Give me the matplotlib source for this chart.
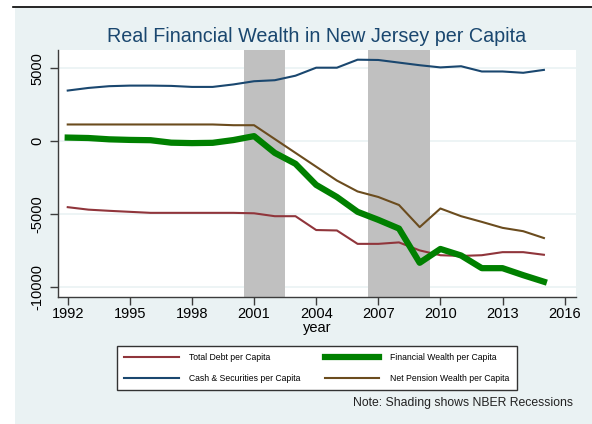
import matplotlib
matplotlib.use("Agg")
import matplotlib.pyplot as plt
from matplotlib.lines import Line2D

years = list(range(1992, 2016))
total_debt = [-4530, -4700, -4780, -4850, -4920, -4920, -4920, -4920, -4920, -4950,
              -5150, -5150, -6100, -6130, -7050, -7050, -6950, -7500, -7830, -7880,
              -7830, -7620, -7620, -7800]
cash_sec = [3480, 3660, 3780, 3820, 3820, 3800, 3730, 3730, 3900, 4120,
            4190, 4500, 5050, 5050, 5600, 5580, 5400, 5220, 5070, 5150,
            4790, 4790, 4700, 4900]
fin_wealth = [250, 220, 130, 90, 70, -100, -130, -110, 80, 350,
              -800, -1550, -3000, -3830, -4850, -5400, -6000, -8350, -7400, -7850,
              -8720, -8720, -9200, -9650]
net_pension = [1150, 1150, 1150, 1150, 1150, 1150, 1150, 1150, 1100, 1100,
               150, -800, -1750, -2700, -3450, -3830, -4380, -5900, -4620, -5150,
               -5540, -5950, -6180, -6650]
recessions = [(2000.5, 2002.5), (2006.5, 2009.5)]
xticks = [1992, 1995, 1998, 2001, 2004, 2007, 2010, 2013, 2016]
yticks = [-10000, -5000, 0, 5000]
series_labels = ["Total Debt per Capita", "Cash & Securities per Capita",
                 "Financial Wealth per Capita", "Net Pension Wealth per Capita"]

plt.rcParams['font.family'] = ['Liberation Sans', 'DejaVu Sans']

BG = '#eaf2f3'
fig = plt.figure(figsize=(5.92, 4.24), dpi=100)
fig.patch.set_facecolor('white')
# light background panel
bgrect = plt.Rectangle((15/592, 0), 1 - 15/592, 1 - 8/424,
                       transform=fig.transFigure, facecolor=BG,
                       edgecolor='none', zorder=-10)
fig.patches.append(bgrect)
fig.lines.append(Line2D([13/592, 1], [1 - 7/424, 1 - 7/424], transform=fig.transFigure,
                        color='black', lw=1.2, zorder=-5))

ax = fig.add_axes([58/592, 1 - 297/424, (576 - 58)/592, (297 - 49.5)/424])
ax.set_zorder(1)
ax.set_facecolor('white')
for a, b in recessions:
    ax.axvspan(a, b, color='#c0c0c0', lw=0, zorder=1)
for y in yticks:
    ax.axhline(y, color=BG, lw=1.2, zorder=0.5)

c_debt, c_cash, c_fin, c_pen = '#90353b', '#1a476f', '#008000', '#6b4c1e'
ax.plot(years, total_debt, color=c_debt, lw=1.5, zorder=3, label=series_labels[0])
ax.plot(years, cash_sec, color=c_cash, lw=1.5, zorder=3, label=series_labels[1])
ax.plot(years, fin_wealth, color=c_fin, lw=4.5, zorder=3, label=series_labels[2])
ax.plot(years, net_pension, color=c_pen, lw=1.5, zorder=3, label=series_labels[3])

ax.set_xlim(1991.53, 2016.55)
ax.set_ylim(-10700, 6300)
ax.set_xticks(xticks)
ax.set_yticks(yticks)
ax.set_yticklabels([str(v) for v in yticks], rotation=90, va='center')
ax.tick_params(axis='x', length=5.5, width=1, color='#3c3c3c', labelsize=10.5, pad=2)
ax.tick_params(axis='y', length=6, width=1, color='#3c3c3c', labelsize=10.5, pad=4)
for s in ['top', 'right']:
    ax.spines[s].set_visible(False)
for s in ['left', 'bottom']:
    ax.spines[s].set_color('#3c3c3c')
    ax.spines[s].set_linewidth(1)
ax.set_xlabel('year', fontsize=10.5, labelpad=0)

fig.text(317/592, 1 - 41.7/424, 'Real Financial Wealth in New Jersey per Capita',
         ha='center', va='baseline', fontsize=14.2, color='#1a476f')

handles, labels = ax.get_legend_handles_labels()
leg = fig.legend(handles, labels, ncol=2, loc='center',
                 bbox_to_anchor=(116.7/592, 1 - 391/424, 400/592, 46/424),
                 mode='expand', fontsize=6.2, handlelength=6.3, handletextpad=1.2,
                 frameon=True, fancybox=False, borderaxespad=0, borderpad=0.9,
                 labelspacing=1.3, columnspacing=2, framealpha=1)
leg.get_frame().set_edgecolor('#333333')
leg.get_frame().set_linewidth(1)
leg.get_frame().set_facecolor('white')

fig.text(573/592, 1 - 403/424, 'Note: Shading shows NBER Recessions', ha='right',
         va='center', fontsize=8.8, color='#222222')

fig.savefig('out.png', dpi=100, facecolor=fig.get_facecolor())
